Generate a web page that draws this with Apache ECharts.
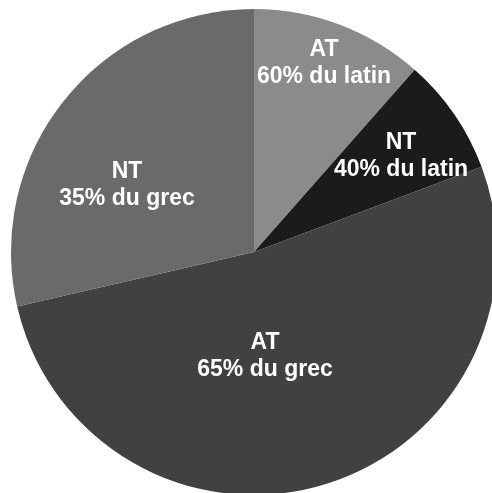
<!DOCTYPE html>
<html>
<head>
<meta charset="utf-8">
<script src="https://cdn.jsdelivr.net/npm/echarts@6/dist/echarts.min.js"></script>
<style>
  html, body { margin: 0; padding: 0; background: #fff; }
  #chart { width: 492px; height: 493px; }
</style>
</head>
<body>
<div id="chart"></div>
<script>
// parts du texte (angles, en % du disque)
const categories = ["AT", "NT", "AT", "NT"];
const shares = ["60% du latin", "40% du latin", "65% du grec", "35% du grec"];
const values = [11.5, 7.8, 52.1, 28.6];

const colors = ["#8b8b8b", "#1b1b1b", "#414141", "#6a6a6a"];
// position des étiquettes (px)
const labelPos = [
  [324, 63],
  [401, 156],
  [265, 356],
  [127, 185],
];

const myChart = echarts.init(document.getElementById("chart"));

let pieData = [];
for (let i = 0; i < values.length; i++) {
  pieData.push({
    value: values[i],
    name: categories[i] + "\n" + shares[i],
    itemStyle: { color: colors[i] },
  });
}

const option = {
  animation: false,
  series: [
    {
      type: "pie",
      center: [254, 252],
      radius: 243,
      startAngle: 90,
      clockwise: true,
      data: pieData,
      itemStyle: { borderWidth: 0 },
      label: {
        show: true,
        position: "inside",
        formatter: "{b}",
        color: "#fff",
        fontFamily: "Liberation Sans, Arial, sans-serif",
        fontWeight: "bold",
        fontSize: 23,
        lineHeight: 27,
        align: "center",
      },
      labelLine: { show: false },
      labelLayout: function (params) {
        const p = labelPos[params.dataIndex];
        return { x: p[0], y: p[1], align: "center", verticalAlign: "middle" };
      },
    },
  ],
};
myChart.setOption(option);
</script>
</body>
</html>
